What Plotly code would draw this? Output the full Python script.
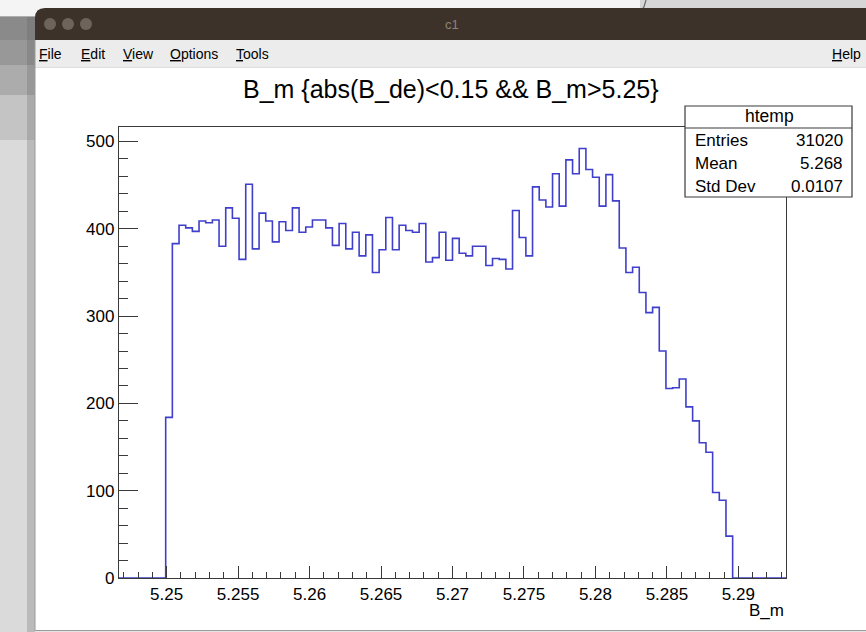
import plotly.graph_objects as go

# ---- htemp: B_m with cut abs(B_de)<0.15 && B_m>5.25 ----
x_low = 5.24667
x_high = 5.29333
n_bins = 100

counts = [
    0, 0, 0, 0, 0, 0, 0,
    184,
    383, 404, 401, 397, 409, 407, 410, 380, 424, 412,
    365, 451, 377, 418, 409, 385, 408, 398, 424, 396,
    402, 410, 410, 401, 381, 406, 377, 396, 369, 393,
    350, 376, 413, 376, 404, 398, 396, 406, 362, 367,
    396, 364, 389, 372, 369, 380, 380, 358, 366, 365,
    354, 421, 390, 369, 448, 433, 425, 463, 426, 479,
    463, 492, 468, 459, 426, 462, 432, 378, 350, 356,
    327, 304, 310, 260, 217, 218, 228, 196, 180, 155,
    144, 98, 89, 48,
    0, 0, 0, 0, 0, 0, 0, 0,
]

x_tick_vals = [5.25, 5.255, 5.26, 5.265, 5.27, 5.275, 5.28, 5.285, 5.29]
x_tick_text = ["5.25", "5.255", "5.26", "5.265", "5.27", "5.275", "5.28", "5.285", "5.29"]
y_tick_vals = [0, 100, 200, 300, 400, 500]
y_tick_text = ["0", "100", "200", "300", "400", "500"]

hist_name = "htemp"
stat_labels = ["Entries", "Mean", "Std Dev"]
stat_values = ["31020", "5.268", "0.0107"]
title_text = "B_m {abs(B_de)<0.15 && B_m>5.25}"
x_title = "B_m"
menu_items = [("<u>F</u>ile", 37), ("<u>E</u>dit", 79), ("<u>V</u>iew", 121),
              ("<u>O</u>ptions", 168), ("<u>T</u>ools", 234)]

FONT = "Liberation Sans, Arial, Helvetica, sans-serif"
W, H = 866, 632
PL, PR, PT, PB = 119, 786, 127, 578   # frame in pixels


def fx(px):
    return (px - PL) / (PR - PL)


def fy(py):
    return (PB - py) / (PB - PT)


# step outline of the histogram
bw = (x_high - x_low) / n_bins
edges = [x_low + i * bw for i in range(n_bins + 1)]
step_y = counts + [counts[-1]]
xs = [x_low] + edges + [x_high]
ys = [0] + step_y + [0]

fig = go.Figure()
fig.add_trace(go.Scatter(
    x=xs, y=ys, mode="lines", line=dict(color="#3f3fcc", width=1.6, shape="hv"),
    hoverinfo="skip", showlegend=False, cliponaxis=True,
))

shapes = []


def rect(x0, y0, x1, y1, fill, line=None, lw=0, layer="below"):
    shapes.append(dict(type="rect", xref="paper", yref="paper",
                       x0=fx(x0), x1=fx(x1), y0=fy(y0), y1=fy(y1),
                       fillcolor=fill, line=dict(color=line or fill, width=lw),
                       layer=layer))


def hline(x0, x1, y, color, lw=1, layer="below"):
    shapes.append(dict(type="line", xref="paper", yref="paper",
                       x0=fx(x0), x1=fx(x1), y0=fy(y), y1=fy(y),
                       line=dict(color=color, width=lw), layer=layer))


def vline(x, y0, y1, color, lw=1, layer="below"):
    shapes.append(dict(type="line", xref="paper", yref="paper",
                       x0=fx(x), x1=fx(x), y0=fy(y0), y1=fy(y1),
                       line=dict(color=color, width=lw), layer=layer))


# desktop behind the window
rect(0, 0, 640, 17, "#f4f4f4")
rect(640, 0, 866, 10, "#d6d6d6")
hline(0, 634, 17, "#6a6a6a", 1.2)
shapes.append(dict(type="path", xref="paper", yref="paper",
                   path=f"M {fx(634)},{fy(17)} Q {fx(643)},{fy(14)} {fx(646)},{fy(0)}",
                   line=dict(color="#6a6a6a", width=1.2), layer="below"))
for (y0, y1, c) in [(17, 40, "#8a8a8a"), (40, 65, "#989898"), (65, 95, "#acacac"),
                    (95, 140, "#c4c4c4"), (140, 632, "#dadada")]:
    rect(0, y0, 35, y1, c)
rect(27, 17, 35, 632, "rgba(90,90,90,0.25)")

# window: title bar with rounded top-left corner
r = 10
shapes.append(dict(
    type="path", xref="paper", yref="paper",
    path=(f"M {fx(35)},{fy(40)} L {fx(35)},{fy(8 + r)} "
          f"Q {fx(35)},{fy(8)} {fx(35 + r)},{fy(8)} "
          f"L {fx(870)},{fy(8)} L {fx(870)},{fy(40)} Z"),
    fillcolor="#3c3229", line=dict(color="#3c3229", width=0), layer="below"))
# menu bar and canvas
rect(35, 40, 870, 68, "#ececec")
hline(35, 870, 68, "#d0d0d0", 1)
rect(35, 68, 870, 630, "#ffffff")
vline(35, 40, 630, "#9a9a9a", 1)
hline(35, 870, 630.5, "#9a9a9a", 1)
# traffic lights
for cx in (50, 68, 86):
    shapes.append(dict(type="circle", xref="paper", yref="paper",
                       x0=fx(cx - 6), x1=fx(cx + 6), y0=fy(24 + 6), y1=fy(24 - 6),
                       fillcolor="#6d655b", line=dict(color="#6d655b", width=0),
                       layer="below"))

# statistics box
rect(685, 106, 852, 197, "#ffffff", "#3a3a3a", 1.2, layer="above")
hline(685, 852, 128, "#3a3a3a", 1.2, layer="above")

annotations = []


def text(px, py, s, size, anchor="left", color="#000000", yanchor="middle"):
    annotations.append(dict(xref="paper", yref="paper", x=fx(px), y=fy(py), text=s,
                            showarrow=False, xanchor=anchor, yanchor=yanchor,
                            font=dict(family=FONT, size=size, color=color)))


text(452, 24, "c1", 13, "center", "#8c8379")
for label, px in menu_items:
    text(px, 54, label, 14)
text(863, 54, "<u>H</u>elp", 14, "right")
text(451, 89, title_text, 25, "center")
text(769, 116, hist_name, 17.5, "center")
for i, (lab, val) in enumerate(zip(stat_labels, stat_values)):
    yy = 140 + i * 23
    text(693, yy, lab, 17)
    text(845, yy, val, 17, "right")
text(786, 610, x_title, 17, "right")

fig.update_layout(
    width=W, height=H, autosize=False,
    margin=dict(l=PL, r=W - PR, t=PT, b=H - PB, pad=0),
    paper_bgcolor="#e4e4e4", plot_bgcolor="rgba(0,0,0,0)",
    shapes=shapes, annotations=annotations, showlegend=False,
    font=dict(family=FONT, color="#000000"),
)
fig.update_xaxes(
    range=[x_low, x_high], showgrid=False, zeroline=False,
    showline=True, linecolor="#3a3a3a", linewidth=1.4, mirror=True,
    tickmode="array", tickvals=x_tick_vals, ticktext=x_tick_text,
    ticks="inside", ticklen=12, tickwidth=1.2, tickcolor="#3a3a3a",
    tickfont=dict(family=FONT, size=17, color="#000000"),
    minor=dict(ticks="inside", ticklen=6, tickwidth=1.1, tickcolor="#3a3a3a",
               tick0=5.25, dtick=0.001, showgrid=False),
)
fig.update_yaxes(
    range=[0, 1.05 * max(counts)], showgrid=False, zeroline=False,
    showline=True, linecolor="#3a3a3a", linewidth=1.4, mirror=True,
    tickmode="array", tickvals=y_tick_vals, ticktext=y_tick_text,
    ticks="inside", ticklen=19, tickwidth=1.2, tickcolor="#3a3a3a",
    tickfont=dict(family=FONT, size=17, color="#000000"),
    minor=dict(ticks="inside", ticklen=9, tickwidth=1.1, tickcolor="#3a3a3a",
               tick0=0, dtick=20, showgrid=False),
)

fig.write_html("out.html")
